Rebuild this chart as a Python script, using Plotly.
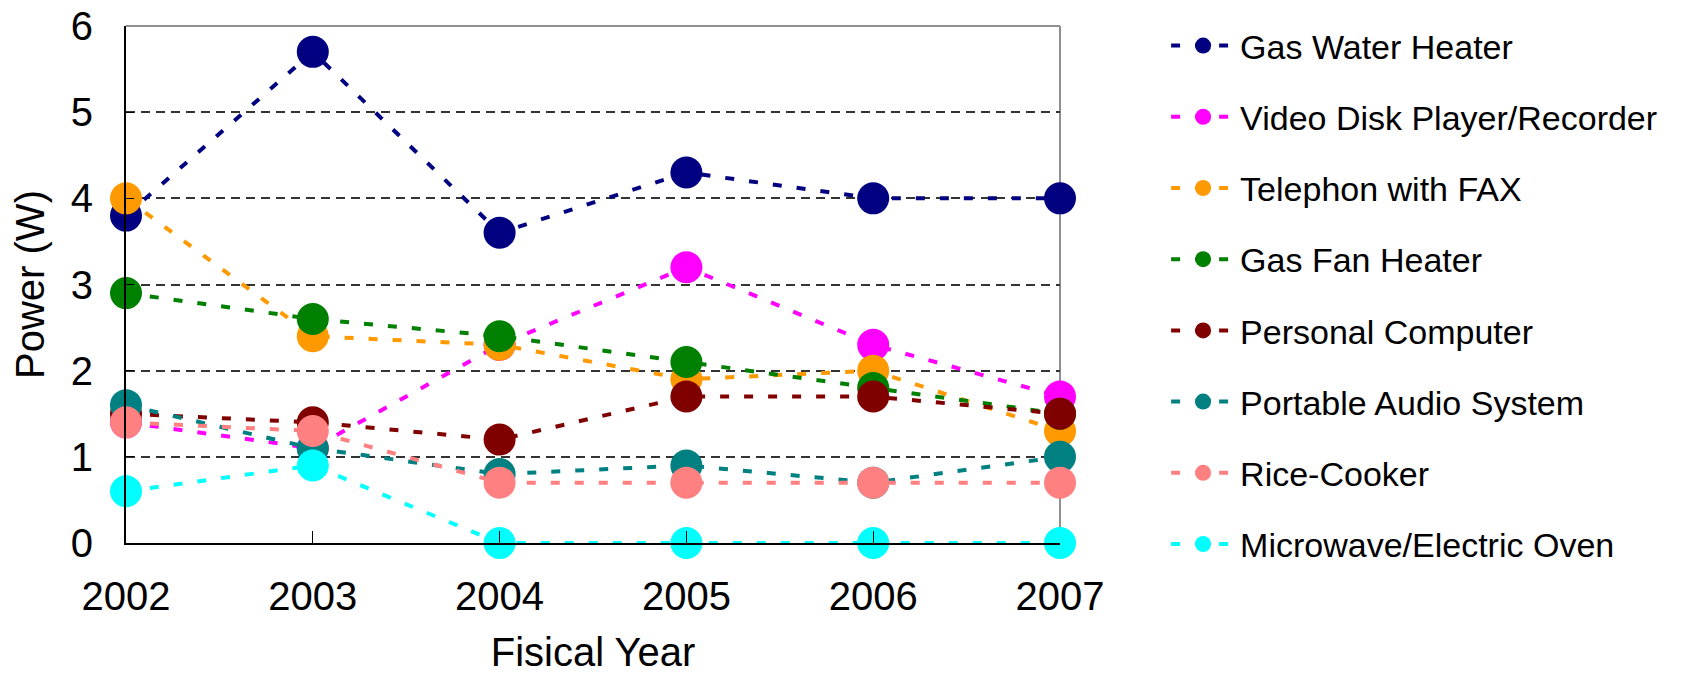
import plotly.graph_objects as go

years = [2002, 2003, 2004, 2005, 2006, 2007]
series_names = [
    "Gas Water Heater",
    "Video Disk Player/Recorder",
    "Telephon with FAX",
    "Gas Fan Heater",
    "Personal Computer",
    "Portable Audio System",
    "Rice-Cooker",
    "Microwave/Electric Oven",
]
gas_water_heater = [3.8, 5.7, 3.6, 4.3, 4.0, 4.0]
video_disk = [1.4, 1.1, 2.3, 3.2, 2.3, 1.7]
telephone_fax = [4.0, 2.4, 2.3, 1.9, 2.0, 1.3]
gas_fan_heater = [2.9, 2.6, 2.4, 2.1, 1.8, 1.5]
personal_computer = [1.5, 1.4, 1.2, 1.7, 1.7, 1.5]
portable_audio = [1.6, 1.1, 0.8, 0.9, 0.7, 1.0]
rice_cooker = [1.4, 1.3, 0.7, 0.7, 0.7, 0.7]
microwave_oven = [0.6, 0.9, 0.0, 0.0, 0.0, 0.0]

series_values = [gas_water_heater, video_disk, telephone_fax, gas_fan_heater,
                 personal_computer, portable_audio, rice_cooker, microwave_oven]
colors = ["#000080", "#FF00FF", "#FF9900", "#008000",
          "#800000", "#008080", "#FF8080", "#00FFFF"]
y_ticks = [0, 1, 2, 3, 4, 5, 6]

FONT = "Arial, Liberation Sans, sans-serif"

fig = go.Figure()
for i, (name, vals, col) in enumerate(zip(series_names, series_values, colors)):
    fig.add_trace(go.Scatter(
        x=years, y=vals, name=name, mode="lines+markers",
        legendgroup=f"g{i}",
        line=dict(color=col, width=4, dash="9px,15px"),
        marker=dict(color=col, size=32, line=dict(width=0)),
        cliponaxis=False,
    ))

# page body has an 8px margin, so the figure is shrunk to fit the window
W, H = 1681, 666
L, T = 118, 18
PW, PH = 934, 517
R = W - L - PW
B = H - T - PH

fig.update_layout(
    width=W, height=H,
    margin=dict(l=L, r=R, t=T, b=B, pad=0, autoexpand=False),
    paper_bgcolor="white", plot_bgcolor="white",
    font=dict(family=FONT, color="black", size=40),
    showlegend=True,
    legend=dict(
        x=1.1136, y=0.9865, xanchor="left", yanchor="top", yref="container",
        maxheight=1.0,
        font=dict(family=FONT, size=34, color="black"),
        traceorder="grouped", tracegroupgap=24,
        itemwidth=64, bgcolor="rgba(0,0,0,0)", borderwidth=0,
    ),
    xaxis=dict(
        range=[2002, 2007], tickvals=years, ticktext=[str(y) for y in years],
        showline=True, linecolor="black", linewidth=2,
        ticks="inside", ticklen=12, tickcolor="black", tickwidth=1,
        ticklabelstandoff=17, ticklabeloverflow="allow",
        showgrid=False, zeroline=False,
        tickfont=dict(family=FONT, size=40, color="black"),
        title=dict(text="Fisical Year", font=dict(family=FONT, size=40, color="black"), standoff=40),
    ),
    yaxis=dict(
        range=[0, 6], tickvals=y_ticks,
        showline=True, linecolor="black", linewidth=2,
        ticks="inside", ticklen=8, tickcolor="black", tickwidth=1,
        ticklabelstandoff=23, ticklabeloverflow="allow",
        showgrid=True, gridcolor="#333333", gridwidth=1.5, griddash="9px,6px",
        zeroline=False,
        tickfont=dict(family=FONT, size=40, color="black"),
        title=dict(text="Power (W)", font=dict(family=FONT, size=40, color="black"), standoff=15),
    ),
    shapes=[
        dict(type="line", xref="paper", yref="paper", x0=0, x1=1, y0=1, y1=1,
             line=dict(color="#909090", width=2), layer="below"),
        dict(type="line", xref="paper", yref="paper", x0=1, x1=1, y0=0, y1=1,
             line=dict(color="#909090", width=2), layer="below"),
    ],
)

fig.write_html("out.html")
